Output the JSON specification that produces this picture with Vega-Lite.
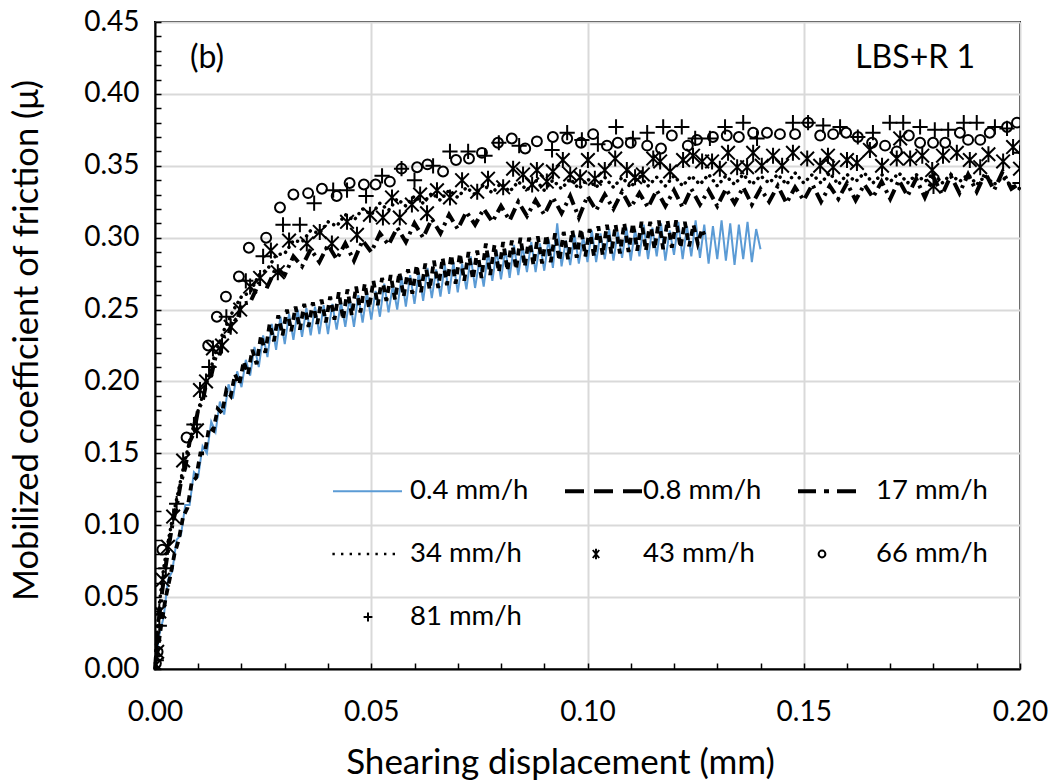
{
"$schema": "https://vega.github.io/schema/vega-lite/v6.json",
"width": 865, "height": 647,
"autosize": "none",
"padding": {"left": 155, "top": 22, "right": 39, "bottom": 113},
"background": "white",
"resolve": {"axis": {"x": "independent", "y": "independent"}},
"datasets": {
"s04": [
{"disp":0.000,"mu":0.002},{"disp":0.001,"mu":0.024},{"disp":0.002,"mu":0.036},{"disp":0.003,"mu":0.062},{"disp":0.004,"mu":0.068},{"disp":0.005,"mu":0.090},{"disp":0.006,"mu":0.093},{"disp":0.007,"mu":0.114},{"disp":0.008,"mu":0.114},{"disp":0.009,"mu":0.137},
{"disp":0.010,"mu":0.134},{"disp":0.011,"mu":0.155},{"disp":0.012,"mu":0.150},{"disp":0.013,"mu":0.172},{"disp":0.014,"mu":0.165},{"disp":0.015,"mu":0.186},{"disp":0.016,"mu":0.177},{"disp":0.017,"mu":0.198},{"disp":0.018,"mu":0.188},{"disp":0.019,"mu":0.207},
{"disp":0.020,"mu":0.196},{"disp":0.021,"mu":0.215},{"disp":0.022,"mu":0.204},{"disp":0.023,"mu":0.224},{"disp":0.024,"mu":0.210},{"disp":0.025,"mu":0.232},{"disp":0.026,"mu":0.217},{"disp":0.027,"mu":0.240},{"disp":0.028,"mu":0.222},{"disp":0.029,"mu":0.245},
{"disp":0.030,"mu":0.226},{"disp":0.031,"mu":0.247},{"disp":0.032,"mu":0.229},{"disp":0.033,"mu":0.250},{"disp":0.034,"mu":0.231},{"disp":0.035,"mu":0.251},{"disp":0.036,"mu":0.232},{"disp":0.037,"mu":0.252},{"disp":0.038,"mu":0.233},{"disp":0.039,"mu":0.253},
{"disp":0.040,"mu":0.233},{"disp":0.041,"mu":0.254},{"disp":0.042,"mu":0.236},{"disp":0.043,"mu":0.255},{"disp":0.044,"mu":0.238},{"disp":0.045,"mu":0.258},{"disp":0.046,"mu":0.238},{"disp":0.047,"mu":0.260},{"disp":0.048,"mu":0.241},{"disp":0.049,"mu":0.262},
{"disp":0.050,"mu":0.243},{"disp":0.051,"mu":0.263},{"disp":0.052,"mu":0.245},{"disp":0.053,"mu":0.268},{"disp":0.054,"mu":0.248},{"disp":0.055,"mu":0.267},{"disp":0.056,"mu":0.250},{"disp":0.057,"mu":0.273},{"disp":0.058,"mu":0.252},{"disp":0.059,"mu":0.274},
{"disp":0.060,"mu":0.254},{"disp":0.061,"mu":0.276},{"disp":0.062,"mu":0.256},{"disp":0.063,"mu":0.279},{"disp":0.064,"mu":0.258},{"disp":0.065,"mu":0.278},{"disp":0.066,"mu":0.259},{"disp":0.067,"mu":0.281},{"disp":0.068,"mu":0.261},{"disp":0.069,"mu":0.283},
{"disp":0.070,"mu":0.262},{"disp":0.071,"mu":0.282},{"disp":0.072,"mu":0.264},{"disp":0.073,"mu":0.287},{"disp":0.074,"mu":0.265},{"disp":0.075,"mu":0.284},{"disp":0.076,"mu":0.266},{"disp":0.077,"mu":0.290},{"disp":0.078,"mu":0.270},{"disp":0.079,"mu":0.291},
{"disp":0.080,"mu":0.271},{"disp":0.081,"mu":0.292},{"disp":0.082,"mu":0.272},{"disp":0.083,"mu":0.295},{"disp":0.084,"mu":0.274},{"disp":0.085,"mu":0.294},{"disp":0.086,"mu":0.276},{"disp":0.087,"mu":0.297},{"disp":0.088,"mu":0.276},{"disp":0.089,"mu":0.296},
{"disp":0.090,"mu":0.277},{"disp":0.091,"mu":0.299},{"disp":0.092,"mu":0.279},{"disp":0.093,"mu":0.310},{"disp":0.094,"mu":0.280},{"disp":0.095,"mu":0.298},{"disp":0.096,"mu":0.281},{"disp":0.097,"mu":0.302},{"disp":0.098,"mu":0.282},{"disp":0.099,"mu":0.301},
{"disp":0.100,"mu":0.283},{"disp":0.101,"mu":0.305},{"disp":0.102,"mu":0.283},{"disp":0.103,"mu":0.303},{"disp":0.104,"mu":0.285},{"disp":0.105,"mu":0.306},{"disp":0.106,"mu":0.284},{"disp":0.107,"mu":0.304},{"disp":0.108,"mu":0.286},{"disp":0.109,"mu":0.307},
{"disp":0.110,"mu":0.284},{"disp":0.111,"mu":0.306},{"disp":0.112,"mu":0.287},{"disp":0.113,"mu":0.309},{"disp":0.114,"mu":0.285},{"disp":0.115,"mu":0.307},{"disp":0.116,"mu":0.287},{"disp":0.117,"mu":0.310},{"disp":0.118,"mu":0.284},{"disp":0.119,"mu":0.305},
{"disp":0.120,"mu":0.288},{"disp":0.121,"mu":0.311},{"disp":0.122,"mu":0.285},{"disp":0.123,"mu":0.308},{"disp":0.124,"mu":0.287},{"disp":0.125,"mu":0.312},{"disp":0.126,"mu":0.286},{"disp":0.127,"mu":0.309},{"disp":0.128,"mu":0.282},{"disp":0.129,"mu":0.308},
{"disp":0.130,"mu":0.285},{"disp":0.131,"mu":0.312},{"disp":0.132,"mu":0.284},{"disp":0.133,"mu":0.310},{"disp":0.134,"mu":0.281},{"disp":0.135,"mu":0.309},{"disp":0.136,"mu":0.285},{"disp":0.137,"mu":0.311},{"disp":0.138,"mu":0.283},{"disp":0.139,"mu":0.306},
{"disp":0.140,"mu":0.292}
],
"s08": [
{"disp":0.0005,"mu":0.010},{"disp":0.0015,"mu":0.032},{"disp":0.0025,"mu":0.050},{"disp":0.0035,"mu":0.064},{"disp":0.0045,"mu":0.080},{"disp":0.0055,"mu":0.090},{"disp":0.0065,"mu":0.106},{"disp":0.0075,"mu":0.112},{"disp":0.0085,"mu":0.130},{"disp":0.0095,"mu":0.133},
{"disp":0.0105,"mu":0.150},{"disp":0.0115,"mu":0.150},{"disp":0.0125,"mu":0.168},{"disp":0.0135,"mu":0.166},{"disp":0.0145,"mu":0.181},{"disp":0.0155,"mu":0.178},{"disp":0.0165,"mu":0.194},{"disp":0.0175,"mu":0.190},{"disp":0.0185,"mu":0.205},{"disp":0.0195,"mu":0.198},
{"disp":0.0205,"mu":0.214},{"disp":0.0215,"mu":0.205},{"disp":0.0225,"mu":0.222},{"disp":0.0235,"mu":0.212},{"disp":0.0245,"mu":0.232},{"disp":0.0255,"mu":0.220},{"disp":0.0265,"mu":0.240},{"disp":0.0275,"mu":0.228},{"disp":0.0285,"mu":0.246},{"disp":0.0295,"mu":0.232},
{"disp":0.0305,"mu":0.250},{"disp":0.0315,"mu":0.235},{"disp":0.0325,"mu":0.252},{"disp":0.0335,"mu":0.236},{"disp":0.0345,"mu":0.254},{"disp":0.0355,"mu":0.238},{"disp":0.0365,"mu":0.255},{"disp":0.0375,"mu":0.240},{"disp":0.0385,"mu":0.257},{"disp":0.0395,"mu":0.241},
{"disp":0.0405,"mu":0.259},{"disp":0.0415,"mu":0.243},{"disp":0.0425,"mu":0.262},{"disp":0.0435,"mu":0.243},{"disp":0.0445,"mu":0.264},{"disp":0.0455,"mu":0.246},{"disp":0.0465,"mu":0.266},{"disp":0.0475,"mu":0.248},{"disp":0.0485,"mu":0.268},{"disp":0.0495,"mu":0.251},
{"disp":0.0505,"mu":0.270},{"disp":0.0515,"mu":0.253},{"disp":0.0525,"mu":0.272},{"disp":0.0535,"mu":0.256},{"disp":0.0545,"mu":0.274},{"disp":0.0555,"mu":0.257},{"disp":0.0565,"mu":0.276},{"disp":0.0575,"mu":0.259},{"disp":0.0585,"mu":0.278},{"disp":0.0595,"mu":0.261},
{"disp":0.0605,"mu":0.281},{"disp":0.0615,"mu":0.262},{"disp":0.0625,"mu":0.282},{"disp":0.0635,"mu":0.264},{"disp":0.0645,"mu":0.284},{"disp":0.0655,"mu":0.265},{"disp":0.0665,"mu":0.286},{"disp":0.0675,"mu":0.267},{"disp":0.0685,"mu":0.288},{"disp":0.0695,"mu":0.268},
{"disp":0.0705,"mu":0.289},{"disp":0.0715,"mu":0.270},{"disp":0.0725,"mu":0.290},{"disp":0.0735,"mu":0.271},{"disp":0.0745,"mu":0.291},{"disp":0.0755,"mu":0.272},{"disp":0.0765,"mu":0.296},{"disp":0.0775,"mu":0.274},{"disp":0.0785,"mu":0.295},{"disp":0.0795,"mu":0.276},
{"disp":0.0805,"mu":0.297},{"disp":0.0815,"mu":0.277},{"disp":0.0825,"mu":0.298},{"disp":0.0835,"mu":0.278},{"disp":0.0845,"mu":0.300},{"disp":0.0855,"mu":0.280},{"disp":0.0865,"mu":0.300},{"disp":0.0875,"mu":0.281},{"disp":0.0885,"mu":0.301},{"disp":0.0895,"mu":0.282},
{"disp":0.0905,"mu":0.302},{"disp":0.0915,"mu":0.283},{"disp":0.0925,"mu":0.303},{"disp":0.0935,"mu":0.284},{"disp":0.0945,"mu":0.304},{"disp":0.0955,"mu":0.285},{"disp":0.0965,"mu":0.305},{"disp":0.0975,"mu":0.286},{"disp":0.0985,"mu":0.306},{"disp":0.0995,"mu":0.287},
{"disp":0.1005,"mu":0.306},{"disp":0.1015,"mu":0.287},{"disp":0.1025,"mu":0.308},{"disp":0.1035,"mu":0.288},{"disp":0.1045,"mu":0.309},{"disp":0.1055,"mu":0.289},{"disp":0.1065,"mu":0.309},{"disp":0.1075,"mu":0.289},{"disp":0.1085,"mu":0.310},{"disp":0.1095,"mu":0.290},
{"disp":0.1105,"mu":0.310},{"disp":0.1115,"mu":0.291},{"disp":0.1125,"mu":0.311},{"disp":0.1135,"mu":0.291},{"disp":0.1145,"mu":0.311},{"disp":0.1155,"mu":0.292},{"disp":0.1165,"mu":0.312},{"disp":0.1175,"mu":0.292},{"disp":0.1185,"mu":0.312},{"disp":0.1195,"mu":0.293},
{"disp":0.1205,"mu":0.312},{"disp":0.1215,"mu":0.293},{"disp":0.1225,"mu":0.311},{"disp":0.1235,"mu":0.294},{"disp":0.1245,"mu":0.309},{"disp":0.1255,"mu":0.296},{"disp":0.1265,"mu":0.306},{"disp":0.1270,"mu":0.302}
],
"s17": [
{"disp":0.0,"mu":0.0},{"disp":0.0005,"mu":0.02},{"disp":0.001,"mu":0.038},{"disp":0.002,"mu":0.062},{"disp":0.003,"mu":0.082},{"disp":0.004,"mu":0.100},{"disp":0.005,"mu":0.113},{"disp":0.006,"mu":0.130},{"disp":0.007,"mu":0.140},{"disp":0.008,"mu":0.158},
{"disp":0.009,"mu":0.164},{"disp":0.010,"mu":0.181},{"disp":0.011,"mu":0.186},{"disp":0.012,"mu":0.201},{"disp":0.013,"mu":0.204},{"disp":0.014,"mu":0.217},{"disp":0.015,"mu":0.219},{"disp":0.016,"mu":0.231},{"disp":0.017,"mu":0.232},{"disp":0.018,"mu":0.244},
{"disp":0.019,"mu":0.242},{"disp":0.020,"mu":0.254},{"disp":0.022,"mu":0.255},{"disp":0.024,"mu":0.268},{"disp":0.026,"mu":0.266},{"disp":0.028,"mu":0.279},{"disp":0.030,"mu":0.274},{"disp":0.032,"mu":0.287},{"disp":0.034,"mu":0.280},{"disp":0.036,"mu":0.292},
{"disp":0.038,"mu":0.283},{"disp":0.040,"mu":0.295},{"disp":0.042,"mu":0.285},{"disp":0.044,"mu":0.296},{"disp":0.046,"mu":0.284},{"disp":0.048,"mu":0.298},{"disp":0.050,"mu":0.290},{"disp":0.052,"mu":0.303},{"disp":0.054,"mu":0.295},{"disp":0.056,"mu":0.307},
{"disp":0.058,"mu":0.297},{"disp":0.060,"mu":0.310},{"disp":0.062,"mu":0.300},{"disp":0.064,"mu":0.313},{"disp":0.066,"mu":0.303},{"disp":0.068,"mu":0.316},{"disp":0.070,"mu":0.306},{"disp":0.072,"mu":0.318},{"disp":0.074,"mu":0.309},{"disp":0.076,"mu":0.320},
{"disp":0.078,"mu":0.311},{"disp":0.080,"mu":0.322},{"disp":0.082,"mu":0.312},{"disp":0.084,"mu":0.325},{"disp":0.086,"mu":0.315},{"disp":0.088,"mu":0.326},{"disp":0.090,"mu":0.316},{"disp":0.092,"mu":0.328},{"disp":0.094,"mu":0.317},{"disp":0.096,"mu":0.329},
{"disp":0.098,"mu":0.314},{"disp":0.100,"mu":0.329},{"disp":0.102,"mu":0.319},{"disp":0.104,"mu":0.330},{"disp":0.106,"mu":0.320},{"disp":0.108,"mu":0.332},{"disp":0.110,"mu":0.321},{"disp":0.112,"mu":0.331},{"disp":0.114,"mu":0.321},{"disp":0.116,"mu":0.333},
{"disp":0.118,"mu":0.322},{"disp":0.120,"mu":0.333},{"disp":0.122,"mu":0.321},{"disp":0.124,"mu":0.334},{"disp":0.126,"mu":0.323},{"disp":0.128,"mu":0.333},{"disp":0.130,"mu":0.322},{"disp":0.132,"mu":0.334},{"disp":0.134,"mu":0.324},{"disp":0.136,"mu":0.335},
{"disp":0.138,"mu":0.323},{"disp":0.140,"mu":0.334},{"disp":0.142,"mu":0.325},{"disp":0.144,"mu":0.336},{"disp":0.146,"mu":0.324},{"disp":0.148,"mu":0.335},{"disp":0.150,"mu":0.326},{"disp":0.152,"mu":0.337},{"disp":0.154,"mu":0.325},{"disp":0.156,"mu":0.336},
{"disp":0.158,"mu":0.327},{"disp":0.160,"mu":0.338},{"disp":0.162,"mu":0.326},{"disp":0.164,"mu":0.337},{"disp":0.166,"mu":0.328},{"disp":0.168,"mu":0.339},{"disp":0.170,"mu":0.327},{"disp":0.172,"mu":0.340},{"disp":0.174,"mu":0.329},{"disp":0.176,"mu":0.341},
{"disp":0.178,"mu":0.328},{"disp":0.180,"mu":0.342},{"disp":0.182,"mu":0.330},{"disp":0.184,"mu":0.343},{"disp":0.186,"mu":0.331},{"disp":0.188,"mu":0.344},{"disp":0.190,"mu":0.332},{"disp":0.192,"mu":0.345},{"disp":0.194,"mu":0.333},{"disp":0.196,"mu":0.346},
{"disp":0.198,"mu":0.334},{"disp":0.200,"mu":0.338}
],
"s34": [
{"disp":0.0,"mu":0.0},{"disp":0.0005,"mu":0.025},{"disp":0.001,"mu":0.045},{"disp":0.0015,"mu":0.058},{"disp":0.002,"mu":0.070},{"disp":0.003,"mu":0.088},{"disp":0.004,"mu":0.104},{"disp":0.005,"mu":0.118},{"disp":0.006,"mu":0.132},{"disp":0.007,"mu":0.146},
{"disp":0.008,"mu":0.158},{"disp":0.009,"mu":0.170},{"disp":0.010,"mu":0.180},{"disp":0.011,"mu":0.190},{"disp":0.012,"mu":0.200},{"disp":0.013,"mu":0.210},{"disp":0.014,"mu":0.220},{"disp":0.015,"mu":0.228},{"disp":0.016,"mu":0.236},{"disp":0.017,"mu":0.242},
{"disp":0.018,"mu":0.249},{"disp":0.019,"mu":0.254},{"disp":0.020,"mu":0.259},{"disp":0.022,"mu":0.262},{"disp":0.024,"mu":0.274},{"disp":0.026,"mu":0.278},{"disp":0.028,"mu":0.288},{"disp":0.030,"mu":0.289},{"disp":0.032,"mu":0.298},{"disp":0.034,"mu":0.297},
{"disp":0.036,"mu":0.305},{"disp":0.038,"mu":0.303},{"disp":0.040,"mu":0.311},{"disp":0.042,"mu":0.308},{"disp":0.044,"mu":0.316},{"disp":0.046,"mu":0.312},{"disp":0.048,"mu":0.320},{"disp":0.050,"mu":0.316},{"disp":0.052,"mu":0.324},{"disp":0.054,"mu":0.319},
{"disp":0.056,"mu":0.327},{"disp":0.058,"mu":0.322},{"disp":0.060,"mu":0.329},{"disp":0.062,"mu":0.324},{"disp":0.064,"mu":0.331},{"disp":0.066,"mu":0.326},{"disp":0.068,"mu":0.333},{"disp":0.070,"mu":0.328},{"disp":0.072,"mu":0.335},{"disp":0.074,"mu":0.330},
{"disp":0.076,"mu":0.337},{"disp":0.078,"mu":0.331},{"disp":0.080,"mu":0.338},{"disp":0.082,"mu":0.332},{"disp":0.084,"mu":0.339},{"disp":0.086,"mu":0.333},{"disp":0.088,"mu":0.340},{"disp":0.090,"mu":0.333},{"disp":0.092,"mu":0.340},{"disp":0.094,"mu":0.334},
{"disp":0.096,"mu":0.341},{"disp":0.098,"mu":0.334},{"disp":0.100,"mu":0.341},{"disp":0.102,"mu":0.335},{"disp":0.104,"mu":0.342},{"disp":0.106,"mu":0.335},{"disp":0.108,"mu":0.342},{"disp":0.110,"mu":0.335},{"disp":0.112,"mu":0.343},{"disp":0.114,"mu":0.336},
{"disp":0.116,"mu":0.342},{"disp":0.118,"mu":0.336},{"disp":0.120,"mu":0.343},{"disp":0.122,"mu":0.336},{"disp":0.124,"mu":0.343},{"disp":0.126,"mu":0.337},{"disp":0.128,"mu":0.344},{"disp":0.130,"mu":0.336},{"disp":0.132,"mu":0.343},{"disp":0.134,"mu":0.337},
{"disp":0.136,"mu":0.344},{"disp":0.138,"mu":0.337},{"disp":0.140,"mu":0.343},{"disp":0.142,"mu":0.338},{"disp":0.144,"mu":0.344},{"disp":0.146,"mu":0.337},{"disp":0.148,"mu":0.345},{"disp":0.150,"mu":0.338},{"disp":0.152,"mu":0.344},{"disp":0.154,"mu":0.338},
{"disp":0.156,"mu":0.345},{"disp":0.158,"mu":0.337},{"disp":0.160,"mu":0.344},{"disp":0.162,"mu":0.339},{"disp":0.164,"mu":0.345},{"disp":0.166,"mu":0.338},{"disp":0.168,"mu":0.344},{"disp":0.170,"mu":0.339},{"disp":0.172,"mu":0.345},{"disp":0.174,"mu":0.338},
{"disp":0.176,"mu":0.344},{"disp":0.178,"mu":0.339},{"disp":0.180,"mu":0.345},{"disp":0.182,"mu":0.338},{"disp":0.184,"mu":0.344},{"disp":0.186,"mu":0.339},{"disp":0.188,"mu":0.344},{"disp":0.190,"mu":0.337},{"disp":0.192,"mu":0.343},{"disp":0.194,"mu":0.337},
{"disp":0.196,"mu":0.342},{"disp":0.198,"mu":0.336},{"disp":0.200,"mu":0.334}
],
"s43": [
{"disp":0.0002,"mu":0.003},{"disp":0.0005,"mu":0.012},{"disp":0.001,"mu":0.040},{"disp":0.0018,"mu":0.062},{"disp":0.003,"mu":0.085},{"disp":0.0042,"mu":0.106},{"disp":0.0065,"mu":0.145},{"disp":0.0097,"mu":0.166},{"disp":0.0104,"mu":0.194},{"disp":0.0118,"mu":0.200},
{"disp":0.0134,"mu":0.223},{"disp":0.0155,"mu":0.225},{"disp":0.0175,"mu":0.238},{"disp":0.0197,"mu":0.250},{"disp":0.022,"mu":0.266},{"disp":0.0243,"mu":0.272},{"disp":0.0268,"mu":0.291},{"disp":0.0284,"mu":0.276},{"disp":0.031,"mu":0.298},{"disp":0.0351,"mu":0.296},
{"disp":0.0381,"mu":0.304},{"disp":0.0409,"mu":0.296},{"disp":0.0444,"mu":0.311},{"disp":0.0467,"mu":0.302},{"disp":0.0497,"mu":0.316},{"disp":0.0527,"mu":0.314},{"disp":0.0548,"mu":0.328},{"disp":0.0566,"mu":0.314},{"disp":0.0594,"mu":0.323},{"disp":0.0613,"mu":0.330},
{"disp":0.0629,"mu":0.317},{"disp":0.0652,"mu":0.333},{"disp":0.0682,"mu":0.328},{"disp":0.071,"mu":0.340},{"disp":0.0745,"mu":0.332},{"disp":0.077,"mu":0.341},{"disp":0.0805,"mu":0.335},{"disp":0.0828,"mu":0.348},{"disp":0.0851,"mu":0.344},{"disp":0.0872,"mu":0.337},
{"disp":0.0883,"mu":0.347},{"disp":0.0906,"mu":0.339},{"disp":0.092,"mu":0.346},{"disp":0.0943,"mu":0.354},{"disp":0.096,"mu":0.344},{"disp":0.0983,"mu":0.342},{"disp":0.1001,"mu":0.354},{"disp":0.1017,"mu":0.341},{"disp":0.104,"mu":0.347},{"disp":0.1064,"mu":0.355},
{"disp":0.1091,"mu":0.347},{"disp":0.111,"mu":0.342},{"disp":0.1128,"mu":0.344},{"disp":0.1152,"mu":0.355},{"disp":0.1168,"mu":0.353},{"disp":0.1191,"mu":0.346},{"disp":0.1221,"mu":0.354},{"disp":0.1244,"mu":0.357},{"disp":0.1265,"mu":0.353},{"disp":0.1288,"mu":0.353},
{"disp":0.1306,"mu":0.348},{"disp":0.1325,"mu":0.359},{"disp":0.1346,"mu":0.349},{"disp":0.1369,"mu":0.349},{"disp":0.1383,"mu":0.359},{"disp":0.1403,"mu":0.350},{"disp":0.1429,"mu":0.357},{"disp":0.145,"mu":0.350},{"disp":0.1475,"mu":0.359},{"disp":0.1508,"mu":0.355},
{"disp":0.1538,"mu":0.350},{"disp":0.1556,"mu":0.357},{"disp":0.1568,"mu":0.349},{"disp":0.160,"mu":0.354},{"disp":0.1623,"mu":0.352},{"disp":0.1653,"mu":0.361},{"disp":0.1681,"mu":0.350},{"disp":0.1715,"mu":0.355},{"disp":0.1723,"mu":0.369},{"disp":0.1746,"mu":0.355},
{"disp":0.1774,"mu":0.357},{"disp":0.1797,"mu":0.347},{"disp":0.1800,"mu":0.336},{"disp":0.1822,"mu":0.357},{"disp":0.1854,"mu":0.359},{"disp":0.1884,"mu":0.354},{"disp":0.1908,"mu":0.349},{"disp":0.1927,"mu":0.358},{"disp":0.1961,"mu":0.353},{"disp":0.1984,"mu":0.363},
{"disp":0.2000,"mu":0.348}
],
"s66": [
{"disp":0.0002,"mu":0.004},{"disp":0.0006,"mu":0.012},{"disp":0.0017,"mu":0.083},{"disp":0.0073,"mu":0.161},{"disp":0.0123,"mu":0.225},{"disp":0.0143,"mu":0.245},{"disp":0.0164,"mu":0.259},{"disp":0.0194,"mu":0.273},{"disp":0.0217,"mu":0.293},{"disp":0.0257,"mu":0.300},
{"disp":0.0289,"mu":0.321},{"disp":0.032,"mu":0.330},{"disp":0.0354,"mu":0.331},{"disp":0.0386,"mu":0.334},{"disp":0.042,"mu":0.329},{"disp":0.045,"mu":0.338},{"disp":0.0483,"mu":0.337},{"disp":0.051,"mu":0.337},{"disp":0.0543,"mu":0.339},{"disp":0.057,"mu":0.348},
{"disp":0.0606,"mu":0.349},{"disp":0.063,"mu":0.351},{"disp":0.0666,"mu":0.346},{"disp":0.0696,"mu":0.354},{"disp":0.0726,"mu":0.355},{"disp":0.0756,"mu":0.359},{"disp":0.0793,"mu":0.366},{"disp":0.0825,"mu":0.369},{"disp":0.0856,"mu":0.362},{"disp":0.0883,"mu":0.367},
{"disp":0.092,"mu":0.370},{"disp":0.0953,"mu":0.369},{"disp":0.0985,"mu":0.366},{"disp":0.1013,"mu":0.372},{"disp":0.1045,"mu":0.364},{"disp":0.107,"mu":0.366},{"disp":0.110,"mu":0.366},{"disp":0.1138,"mu":0.364},{"disp":0.117,"mu":0.362},{"disp":0.1195,"mu":0.371},
{"disp":0.1232,"mu":0.364},{"disp":0.1253,"mu":0.368},{"disp":0.129,"mu":0.370},{"disp":0.1322,"mu":0.371},{"disp":0.135,"mu":0.370},{"disp":0.1383,"mu":0.373},{"disp":0.1415,"mu":0.373},{"disp":0.1445,"mu":0.372},{"disp":0.148,"mu":0.372},{"disp":0.151,"mu":0.380},
{"disp":0.1538,"mu":0.371},{"disp":0.1568,"mu":0.372},{"disp":0.1598,"mu":0.373},{"disp":0.1625,"mu":0.370},{"disp":0.1658,"mu":0.366},{"disp":0.1688,"mu":0.364},{"disp":0.1715,"mu":0.360},{"disp":0.1743,"mu":0.371},{"disp":0.1769,"mu":0.366},{"disp":0.1799,"mu":0.366},
{"disp":0.1827,"mu":0.366},{"disp":0.1861,"mu":0.373},{"disp":0.188,"mu":0.368},{"disp":0.1908,"mu":0.368},{"disp":0.193,"mu":0.373},{"disp":0.197,"mu":0.377},{"disp":0.1993,"mu":0.380}
],
"s81": [
{"disp":0.0003,"mu":0.006},{"disp":0.001,"mu":0.030},{"disp":0.0025,"mu":0.070},{"disp":0.005,"mu":0.115},{"disp":0.009,"mu":0.170},{"disp":0.0125,"mu":0.210},{"disp":0.0165,"mu":0.245},{"disp":0.021,"mu":0.270},{"disp":0.025,"mu":0.287},{"disp":0.0296,"mu":0.309},
{"disp":0.0335,"mu":0.309},{"disp":0.0368,"mu":0.324},{"disp":0.0412,"mu":0.333},{"disp":0.0444,"mu":0.333},{"disp":0.0488,"mu":0.329},{"disp":0.0525,"mu":0.343},{"disp":0.057,"mu":0.348},{"disp":0.060,"mu":0.340},{"disp":0.0643,"mu":0.350},{"disp":0.0682,"mu":0.360},
{"disp":0.0724,"mu":0.360},{"disp":0.0763,"mu":0.357},{"disp":0.0795,"mu":0.366},{"disp":0.0842,"mu":0.364},{"disp":0.0918,"mu":0.361},{"disp":0.0953,"mu":0.373},{"disp":0.0987,"mu":0.368},{"disp":0.1024,"mu":0.365},{"disp":0.1066,"mu":0.377},{"disp":0.1105,"mu":0.369},
{"disp":0.1138,"mu":0.373},{"disp":0.1175,"mu":0.377},{"disp":0.1218,"mu":0.377},{"disp":0.1249,"mu":0.369},{"disp":0.1283,"mu":0.369},{"disp":0.1318,"mu":0.377},{"disp":0.136,"mu":0.380},{"disp":0.1392,"mu":0.369},{"disp":0.1475,"mu":0.380},{"disp":0.151,"mu":0.380},
{"disp":0.1545,"mu":0.378},{"disp":0.1584,"mu":0.377},{"disp":0.1625,"mu":0.370},{"disp":0.166,"mu":0.373},{"disp":0.1699,"mu":0.380},{"disp":0.173,"mu":0.380},{"disp":0.1769,"mu":0.377},{"disp":0.1803,"mu":0.375},{"disp":0.1834,"mu":0.375},{"disp":0.187,"mu":0.380},
{"disp":0.190,"mu":0.380},{"disp":0.1942,"mu":0.377},{"disp":0.197,"mu":0.376},{"disp":0.2,"mu":0.359},{"disp":0.2,"mu":0.338}
],
"legend": [
{"series":"0.4 mm/h"},{"series":"0.8 mm/h"},{"series":"17 mm/h"},{"series":"34 mm/h"},{"series":"43 mm/h"},{"series":"66 mm/h"},{"series":"81 mm/h"}
]
},
"layer": [
{"data": {"name": "s04"}, "mark": {"type": "line", "color": "#5B9BD5", "strokeWidth": 2},
 "encoding": {
 "x": {"field": "disp", "type": "quantitative", "title": "Shearing displacement (mm)",
  "scale": {"domain": [0, 0.2], "nice": false, "zero": false},
  "axis": {
   "values": [0,0.01,0.02,0.03,0.04,0.05,0.06,0.07,0.08,0.09,0.1,0.11,0.12,0.13,0.14,0.15,0.16,0.17,0.18,0.19,0.2],
   "labelExpr": "round(datum.value*100) % 5 == 0 ? format(datum.value, '.2f') : ''",
   "grid": true,
   "gridOpacity": {"condition": {"test": "round(datum.value*100) % 5 == 0", "value": 1}, "value": 0},
   "gridColor": "#d9d9d9", "gridWidth": 2,
   "tickSize": -6, "tickColor": "black", "tickWidth": 1.5,
   "domainColor": "black", "domainWidth": 2,
   "labelFont": "Lato", "labelFontSize": 28, "labelColor": "black", "labelPadding": 35,
   "labelOverlap": false, "labelFlush": false,
   "titleFont": "Lato", "titleFontSize": 35, "titleFontWeight": "normal", "titleColor": "black", "titlePadding": 19, "titleX": 405}},
 "y": {"field": "mu", "type": "quantitative", "title": "Mobilized coefficient of friction (μ)",
  "scale": {"domain": [0, 0.45], "nice": false, "zero": false},
  "axis": {
   "values": [0,0.01,0.02,0.03,0.04,0.05,0.06,0.07,0.08,0.09,0.1,0.11,0.12,0.13,0.14,0.15,0.16,0.17,0.18,0.19,0.2,0.21,0.22,0.23,0.24,0.25,0.26,0.27,0.28,0.29,0.3,0.31,0.32,0.33,0.34,0.35,0.36,0.37,0.38,0.39,0.4,0.41,0.42,0.43,0.44,0.45],
   "labelExpr": "round(datum.value*100) % 5 == 0 ? format(datum.value, '.2f') : ''",
   "grid": true,
   "gridOpacity": {"condition": {"test": "round(datum.value*100) % 5 == 0", "value": 1}, "value": 0},
   "gridColor": "#d9d9d9", "gridWidth": 2,
   "tickSize": -6, "tickColor": "black", "tickWidth": 1.5,
   "domainColor": "black", "domainWidth": 2,
   "labelFont": "Lato", "labelFontSize": 28, "labelColor": "black", "labelPadding": 22,
   "labelOverlap": false, "labelFlush": false,
   "titleFont": "Lato", "titleFontSize": 34.5, "titleFontWeight": "normal", "titleColor": "black", "titlePadding": 39, "titleY": 318}}
 }},
{"data": {"name": "s08"}, "mark": {"type": "line", "color": "black", "strokeWidth": 3.8, "strokeDash": [7, 5]},
 "encoding": {"x": {"field": "disp", "type": "quantitative", "axis": null}, "y": {"field": "mu", "type": "quantitative", "axis": null}}},
{"data": {"name": "s17"}, "mark": {"type": "line", "color": "black", "strokeWidth": 4, "strokeDash": [12, 5, 3, 5]},
 "encoding": {"x": {"field": "disp", "type": "quantitative", "axis": null}, "y": {"field": "mu", "type": "quantitative", "axis": null}}},
{"data": {"name": "s34"}, "mark": {"type": "line", "color": "black", "strokeWidth": 3.5, "strokeDash": [0.1, 6], "strokeCap": "round"},
 "encoding": {"x": {"field": "disp", "type": "quantitative", "axis": null}, "y": {"field": "mu", "type": "quantitative", "axis": null}}},
{"data": {"name": "s43"}, "mark": {"type": "point", "shape": "M-0.85,-0.85L0.85,0.85M-0.85,0.85L0.85,-0.85M0,-1L0,1", "size": 256, "filled": false, "color": "black", "strokeWidth": 2, "opacity": 1, "clip": true},
 "encoding": {"x": {"field": "disp", "type": "quantitative", "axis": null}, "y": {"field": "mu", "type": "quantitative", "axis": null}}},
{"data": {"name": "s66"}, "mark": {"type": "point", "shape": "M0.62,0A0.62,0.62,0,1,1,-0.62,0A0.62,0.62,0,1,1,0.62,0Z", "size": 256, "filled": false, "color": "black", "strokeWidth": 2, "opacity": 1, "clip": true},
 "encoding": {"x": {"field": "disp", "type": "quantitative", "axis": null}, "y": {"field": "mu", "type": "quantitative", "axis": null}}},
{"data": {"name": "s81"}, "mark": {"type": "point", "shape": "M-0.95,0L0.95,0M0,-0.95L0,0.95", "size": 256, "filled": false, "color": "black", "strokeWidth": 2, "opacity": 1, "clip": true},
 "encoding": {"x": {"field": "disp", "type": "quantitative", "axis": null}, "y": {"field": "mu", "type": "quantitative", "axis": null}}},
{"data": {"name": "legend"},
 "mark": {"type": "point", "filled": false, "opacity": 0, "size": 1600, "strokeWidth": 2},
 "encoding": {
  "shape": {"field": "series", "type": "nominal",
   "scale": {"domain": ["0.4 mm/h","0.8 mm/h","17 mm/h","34 mm/h","43 mm/h","66 mm/h","81 mm/h"],
    "range": [
     "M-1.9,0H1.55",
     "M-1.9,-0.05H-1.05V0.05H-1.9ZM-0.45,-0.05H0.4V0.05H-0.45ZM1,-0.05H1.85V0.05H1Z",
     "M-1.9,-0.05H-1.1V0.05H-1.9ZM-0.6,-0.05H-0.45V0.05H-0.6ZM0.05,-0.05H0.9V0.05H0.05Z",
     "M-1.88,-0.01h0.02v0.02h-0.02ZM-1.45,-0.01h0.02v0.02h-0.02ZM-1.02,-0.01h0.02v0.02h-0.02ZM-0.59,-0.01h0.02v0.02h-0.02ZM-0.16,-0.01h0.02v0.02h-0.02ZM0.27,-0.01h0.02v0.02h-0.02ZM0.7,-0.01h0.02v0.02h-0.02ZM1.13,-0.01h0.02v0.02h-0.02Z",
     "M-0.56,-0.2L-0.24,0.2M-0.56,0.2L-0.24,-0.2M-0.4,-0.26V0.26",
     "M-0.58,0A0.17,0.17,0,1,1,-0.92,0A0.17,0.17,0,1,1,-0.58,0Z",
     "M-0.37,0H0.07M-0.15,-0.22V0.22"]},
   "legend": {"orient": "none", "legendX": 178, "legendY": 448, "columns": 3, "direction": "horizontal", "title": null,
    "symbolSize": 1600, "symbolOffset": 17, "labelOffset": 18, "symbolStrokeWidth": 2, "symbolOpacity": 1,
    "labelFont": "Lato", "labelFontSize": 27.5, "labelColor": "black", "labelLimit": 400,
    "columnPadding": 33, "rowPadding": 28, "gridAlign": "all", "padding": 0}},
  "stroke": {"field": "series", "type": "nominal",
   "scale": {"domain": ["0.4 mm/h","0.8 mm/h","17 mm/h","34 mm/h","43 mm/h","66 mm/h","81 mm/h"],
    "range": ["#5B9BD5","black","black","black","black","black","black"]}}
 }},
{"data": {"values": [{"label": "(b)"}]},
 "mark": {"type": "text", "align": "left", "baseline": "middle", "font": "Lato", "fontSize": 32, "color": "black"},
 "encoding": {"x": {"datum": 0.0081, "axis": null}, "y": {"datum": 0.425, "axis": null}, "text": {"field": "label", "type": "nominal"}}},
{"data": {"values": [{"label": "LBS+R 1"}]},
 "mark": {"type": "text", "align": "right", "baseline": "middle", "font": "Lato", "fontSize": 32, "color": "black"},
 "encoding": {"x": {"datum": 0.1896, "axis": null}, "y": {"datum": 0.425, "axis": null}, "text": {"field": "label", "type": "nominal"}}}
],
"config": {"view": {"stroke": "black", "strokeWidth": 2}, "font": "Lato"}
}
